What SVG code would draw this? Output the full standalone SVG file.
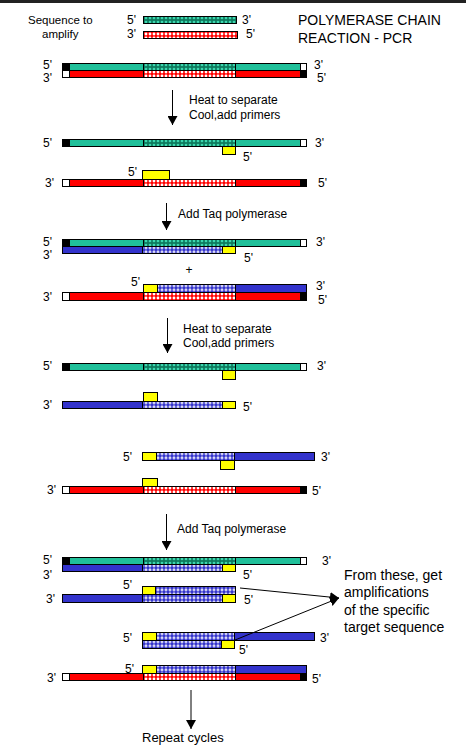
<svg xmlns="http://www.w3.org/2000/svg" width="466" height="755" viewBox="0 0 466 755">
<style>
.s{stroke:#000;stroke-width:1}
.k{fill:#000}.w{fill:#fff}.g{fill:#20C09A}.r{fill:#f00}.b{fill:#3333CC}.y{fill:#ff0}
.pg{fill:url(#pg)}.pr{fill:url(#pr)}.pb{fill:url(#pb)}
text{font-family:"Liberation Sans",Arial,sans-serif;font-size:12px;fill:#000}
.sm{font-size:11.5px}.big{font-size:14px}.rc{font-size:13px}
.conn{stroke:#000;stroke-width:1;fill:none;marker-end:url(#ah)}
</style>
<defs>
<pattern id="pg" width="4" height="4" patternUnits="userSpaceOnUse"><rect width="4" height="4" fill="#0E7A5E"/><circle cx="2" cy="2" r="1.3" fill="#3CD6AE"/></pattern>
<pattern id="pr" width="4" height="4" patternUnits="userSpaceOnUse"><rect width="4" height="4" fill="#f00"/><circle cx="2" cy="2" r="1.4" fill="#fff"/></pattern>
<pattern id="pb" width="4" height="4" patternUnits="userSpaceOnUse"><rect width="4" height="4" fill="#3333CC"/><circle cx="2" cy="2" r="1.4" fill="#fff"/><circle cx="2" cy="2" r="0.6" fill="#3333CC"/></pattern>
<marker id="ah" markerWidth="10" markerHeight="10" refX="9" refY="5" orient="auto" markerUnits="userSpaceOnUse"><path d="M0,0 L9,5 L0,10 Z" fill="#000"/></marker>
<g id="gfull7">
<rect class="s k" x="62.5" y="0.5" width="7" height="7"/><rect class="s g" x="69.5" y="0.5" width="74" height="7"/><rect class="s pg" x="143.5" y="0.5" width="92" height="7"/><rect class="s g" x="235.5" y="0.5" width="65" height="7"/><rect class="s w" x="300.5" y="0.5" width="6" height="7"/>
</g>
<g id="rfull7">
<rect class="s w" x="62.5" y="0.5" width="7" height="7"/><rect class="s r" x="69.5" y="0.5" width="74" height="7"/><rect class="s pr" x="143.5" y="0.5" width="92" height="7"/><rect class="s r" x="235.5" y="0.5" width="65" height="7"/><rect class="s k" x="300.5" y="0.5" width="6" height="7"/>
</g>
<g id="rfull8">
<rect class="s w" x="62.5" y="0.5" width="7" height="8"/><rect class="s r" x="69.5" y="0.5" width="74" height="8"/><rect class="s pr" x="143.5" y="0.5" width="92" height="8"/><rect class="s r" x="235.5" y="0.5" width="65" height="8"/><rect class="s k" x="300.5" y="0.5" width="6" height="8"/>
</g>
<g id="blow">
<rect class="s b" x="62.5" y="0.5" width="80" height="7"/><rect class="s pb" x="142.5" y="0.5" width="80" height="7"/><rect class="s y" x="222.5" y="0.5" width="13" height="7"/>
</g>
</defs>
<rect x="0" y="0" width="466" height="3" fill="#222"/>

<g id="title">
<text class="big" x="298" y="25">POLYMERASE CHAIN</text>
<text class="big" x="298" y="43">REACTION - PCR</text>
</g>

<g id="sequence">
<text class="sm" x="28" y="24">Sequence to</text>
<text class="sm" x="42" y="38">amplify</text>
<rect class="s pg" x="143.5" y="16.5" width="93" height="7"/>
<rect class="s pr" x="143.5" y="31.5" width="94" height="7"/>
<text x="127" y="24">5'</text><text x="242" y="24">3'</text>
<text x="127" y="38">3'</text><text x="246" y="38">5'</text>
</g>

<g id="step0">
<use href="#gfull7" y="63"/>
<use href="#rfull7" y="70"/>
<text x="43" y="69">5'</text><text x="43" y="81.5">3'</text>
<text x="314" y="69">3'</text><text x="317" y="82">5'</text>
</g>

<g id="step1">
<use href="#gfull7" y="139"/>
<rect class="s y" x="222.5" y="146.5" width="13" height="8"/>
<text x="43" y="147">5'</text><text x="315" y="147">3'</text><text x="243" y="161">5'</text>
<rect class="s y" x="142.5" y="170.5" width="27" height="9"/>
<use href="#rfull7" y="179"/>
<text x="128" y="176">5'</text><text x="45" y="187">3'</text><text x="318" y="187">5'</text>
</g>

<g id="step2">
<use href="#gfull7" y="239"/>
<use href="#blow" y="246"/>
<text x="43" y="246">5'</text><text x="43" y="259">3'</text>
<text x="316" y="246">3'</text><text x="244" y="262">5'</text>
<text x="189" y="274" text-anchor="middle">+</text>
<rect class="s y" x="143.5" y="284.5" width="14" height="8"/><rect class="s pb" x="157.5" y="284.5" width="78" height="8"/><rect class="s b" x="235.5" y="284.5" width="71" height="8"/>
<use href="#rfull8" y="292"/>
<text x="131" y="286">5'</text><text x="316" y="290">3'</text>
<text x="43" y="301">3'</text><text x="318" y="303.5">5'</text>
</g>

<g id="step3">
<use href="#gfull7" y="363"/>
<rect class="s y" x="222.5" y="370.5" width="13" height="9"/>
<text x="43" y="370">5'</text><text x="317" y="370">3'</text>
<rect class="s y" x="143.5" y="392.5" width="14" height="9"/>
<use href="#blow" y="401"/>
<text x="43" y="409">3'</text><text x="243" y="411">5'</text>
</g>

<g id="step4">
<rect class="s y" x="142.5" y="452.5" width="14" height="8"/><rect class="s pb" x="156.5" y="452.5" width="78" height="8"/><rect class="s b" x="234.5" y="452.5" width="80" height="8"/>
<rect class="s y" x="220.5" y="460.5" width="14" height="9"/>
<text x="123" y="461">5'</text><text x="321" y="461">3'</text>
<rect class="s y" x="142.5" y="478.5" width="15" height="8"/>
<use href="#rfull7" y="486"/>
<text x="47" y="494">3'</text><text x="312" y="495">5'</text>
</g>

<g id="step5a">
<use href="#gfull7" y="557"/>
<use href="#blow" y="564"/>
<text x="43" y="564">5'</text><text x="322" y="565">3'</text>
<text x="43" y="579">3'</text><text x="243" y="579">5'</text>
</g>

<g id="step5b">
<rect class="s y" x="142.5" y="586.5" width="13" height="8"/><rect class="s pb" x="155.5" y="586.5" width="80" height="8"/>
<rect class="s b" x="62.5" y="594.5" width="80" height="8"/><rect class="s pb" x="142.5" y="594.5" width="80" height="8"/><rect class="s y" x="222.5" y="594.5" width="13" height="8"/>
<text x="123" y="589">5'</text><text x="46" y="603">3'</text><text x="244" y="604">5'</text>
</g>

<g id="step5c">
<rect class="s y" x="142.5" y="632.5" width="14" height="8"/><rect class="s pb" x="156.5" y="632.5" width="78" height="8"/><rect class="s b" x="234.5" y="632.5" width="80" height="8"/>
<rect class="s pb" x="142.5" y="640.5" width="79" height="8"/><rect class="s y" x="221.5" y="640.5" width="13" height="8"/>
<text x="123" y="642">5'</text><text x="320" y="642">3'</text><text x="239" y="654">5'</text>
</g>

<g id="step5d">
<rect class="s y" x="142.5" y="665.5" width="14" height="8"/><rect class="s pb" x="156.5" y="665.5" width="79" height="8"/><rect class="s b" x="235.5" y="665.5" width="71" height="8"/>
<use href="#rfull7" y="673"/>
<text x="125" y="673">5'</text><text x="47" y="682">3'</text><text x="312" y="683">5'</text>
</g>

<g id="labels">
<text x="189" y="104">Heat to separate</text>
<text x="189" y="119">Cool,add primers</text>
<text x="178" y="218">Add Taq polymerase</text>
<text x="183" y="333">Heat to separate</text>
<text x="183" y="347">Cool,add primers</text>
<text x="177" y="533">Add Taq polymerase</text>
<text class="rc" x="142" y="742">Repeat cycles</text>
<text class="big" x="344" y="580">From these, get</text>
<text class="big" x="344" y="597">amplifications</text>
<text class="big" x="344" y="614.5">of the specific</text>
<text class="big" x="344" y="631.5">target sequence</text>
</g>

<g id="connectors">
<line class="conn" x1="172.5" y1="90" x2="172.5" y2="125"/>
<line class="conn" x1="166.5" y1="203" x2="166.5" y2="230"/>
<line class="conn" x1="167.5" y1="318" x2="167.5" y2="353"/>
<line class="conn" x1="166.5" y1="514" x2="166.5" y2="550"/>
<line class="conn" x1="191" y1="690" x2="191" y2="729"/>
<line class="conn" x1="240" y1="588" x2="339" y2="598"/>
<line class="conn" x1="235" y1="640" x2="339" y2="598"/>
</g>
</svg>
